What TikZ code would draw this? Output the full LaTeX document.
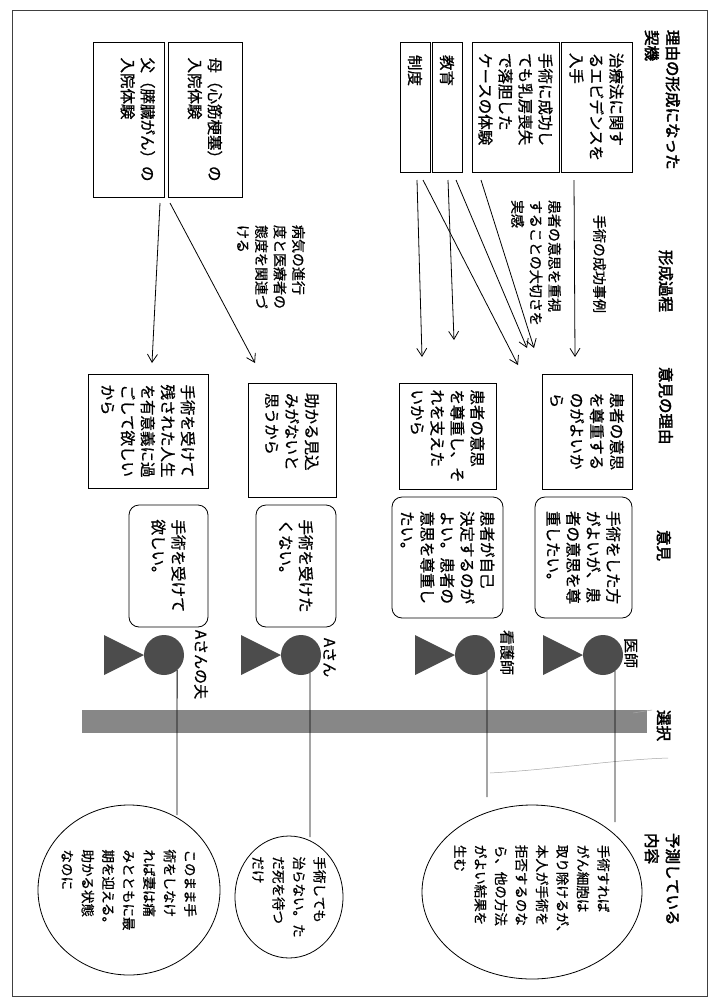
\documentclass[tikz,border=0pt]{standalone}
\usepackage{fontspec}
\newfontfamily\jp[FakeBold=0.8]{Noto Sans CJK JP}
\newfontfamily\jpb[FakeBold=2.5]{Noto Sans CJK JP}
\usetikzlibrary{arrows.meta,calc,shapes.geometric}
\begin{document}
\begin{tikzpicture}[x=1pt,y=-1pt,
  every node/.style={inner sep=0pt, outer sep=0pt},
  vt/.style={rotate=-90, align=left},
  txt/.style={vt, font=\jp\fontsize{15.5}{20}\selectfont},
  small/.style={vt, font=\jp\fontsize{13.5}{20.5}\selectfont},
  lbl/.style={vt, anchor=north west, font=\jp\fontsize{14}{18.5}\selectfont},
  hdr/.style={vt, anchor=north west, font=\jpb\fontsize{15.5}{21}\selectfont},
  who/.style={vt, anchor=north west, font=\jp\fontsize{15}{19}\selectfont},
  sqbox/.style={txt, draw, line width=0.8pt},
  rdbox/.style={txt, draw, line width=0.8pt, rounded corners=10pt},
  oval/.style={ellipse, draw, line width=0.8pt},
  body/.style={circle, fill=black!70, minimum size=40pt},
  legs/.style={fill=black!70},
  ln/.style={line width=0.8pt},
  arr/.style={line width=0.8pt, -{Straight Barb[length=8pt,width=10pt]}},
  bar/.style={fill=black!47},
  pencil/.style={black!35, line width=0.5pt},
]
\useasboundingbox (0,0) rectangle (714,1001);
\fill[white] (0,0) rectangle (714,1001);
\draw[line width=0.8pt, black!75] (12,10) rectangle (707,996);

% headers
\node[hdr] (h1) at (680,30) {理由の形成になった\\契機};
\node[hdr] (h2) at (673,250) {形成過程};
\node[hdr] (h3) at (673,367) {意見の理由};
\node[hdr] (h4) at (671,530) {意見};
\node[hdr] (h5) at (671,710) {選択};
\node[hdr] (h6) at (680,833) {予測している\\内容};

% origin boxes
\node[sqbox, minimum width=130pt, minimum height=71pt] (b1) at (596.5,107) {治療法に関す\\るエビデンスを\\入手};
\node[sqbox, minimum width=130pt, minimum height=87pt, text width=108pt] (b2) at (515.5,107) {手術に成功し\\ても乳房喪失\\で落胆した\\ケースの体験};
\node[sqbox, minimum width=130pt, minimum height=30pt, text width=104pt] (b3) at (447,107) {教育};
\node[sqbox, minimum width=130pt, minimum height=30pt, text width=104pt] (b4) at (415,107) {制度};
\node[sqbox, minimum width=155pt, minimum height=74pt] (b5) at (205,119.5) {母（心筋梗塞）の\\入院体験};
\node[sqbox, minimum width=155pt, minimum height=71pt] (b6) at (128.5,119.5) {父（膵臓がん）の\\入院体験\\\mbox{}};

% process labels
\node[lbl] (k1) at (606,215) {手術の成功事例};
\node[lbl] (k2) at (561,200) {患者の意思を重視\\することの大切さを\\実感};
\node[lbl] (k3) at (305,225) {病気の進行\\度と医療者の\\態度を関連づ\\ける};

% reason boxes
\node[sqbox, minimum width=115pt, minimum height=90pt] (r1) at (587,431.5) {患者の意思\\を尊重する\\のがよいか\\ら};
\node[sqbox, minimum width=106pt, minimum height=97pt] (r2) at (447.5,436) {患者の意思\\を尊重し、そ\\れを支えた\\いから};
\node[sqbox, minimum width=114pt, minimum height=88pt, text width=94pt] (r3) at (292,440) {助かる見込\\みがないと\\思うから};
\node[sqbox, minimum width=114pt, minimum height=120pt] (r4) at (148,431) {手術を受けて\\残された人生\\を有意義に過\\ごして欲しい\\から};

% arrows
\coordinate (s1) at ($(b4.center)+(2,73)$);   \coordinate (t1) at (422,357);
\coordinate (s2) at ($(b4.center)+(8,73)$);   \coordinate (t2) at (518,365);
\coordinate (s3) at ($(b3.center)+(1,73)$);   \coordinate (t3) at (454,340);
\coordinate (s4) at ($(b3.center)+(9,73)$);   \coordinate (t4) at (527,348);
\coordinate (s5) at ($(b2.center)+(-34.5,73)$); \coordinate (t5) at (534,348);
\coordinate (s6) at ($(b1.center)+(-22.5,73)$); \coordinate (t6) at (575,357);
\coordinate (s7) at ($(b5.center)+(-35,83.5)$); \coordinate (t7) at (255,363);
\coordinate (s8) at ($(b6.center)+(31.5,83.5)$); \coordinate (t8) at (152,363);
\foreach \i in {1,...,8} {\draw[arr] (s\i) -- (t\i);}

% opinion boxes
\node[rdbox, minimum width=121pt, minimum height=97pt] (o1) at (583.5,557.5) {手術をした方\\がよいが、患\\者の意思を尊\\重したい。};
\node[rdbox, minimum width=121pt, minimum height=111pt] (o2) at (447.5,557.5) {患者が自己\\決定するのが\\よい。患者の\\意思を尊重し\\たい。};
\node[rdbox, minimum width=122pt, minimum height=80pt] (o3) at (296,566) {手術を受けた\\くない。};
\node[rdbox, minimum width=122pt, minimum height=79pt] (o4) at (168.5,566) {手術を受けて\\欲しい。};

% choice bar
\fill[bar] (82,710) rectangle (647,733);
\draw[pencil] (633,713) -- (652,710);
\draw[pencil] (490,773) .. controls (560,769) and (610,760) .. (668,758);

% persons
\node[body] (p1) at (603,655) {};
\node[body] (p2) at (475,655) {};
\node[body] (p3) at (301,655) {};
\node[body] (p4) at (164,655) {};
\foreach \p in {p1,p2,p3,p4} {
  \fill[legs] ($(\p.west)+(-40,-20)$) -- (\p.west) -- ($(\p.west)+(-40,20)$) -- cycle;
}
\node[who] (l1) at (638,638) {医師};
\node[who] (l2) at (514,630) {看護師};
\node[who] (l3) at (336,638) {Aさん};
\node[who] (l4) at (208,630) {Aさんの夫};

% prediction ellipses
\node[oval, minimum width=220pt, minimum height=174pt] (e1) at (532,892) {};
\node[oval, minimum width=108pt, minimum height=122pt] (e2) at (289,897) {};
\node[oval, minimum width=182pt, minimum height=170pt] (e3) at (129,890) {};
\node[small] (x1) at (e1.center) {手術すれば\\がん細胞は\\取り除けるが、\\本人が手術を\\拒否するのな\\ら、他の方法\\がよい結果を\\生む};
\node[small] (x2) at (e2.center) {手術しても\\治らない。た\\だ死を待つ\\だけ};
\node[small] (x3) at (e3.center) {このまま手\\術をしなけ\\れば妻は痛\\みとともに最\\期を迎える。\\助かる状態\\なのに};

% timelines
\coordinate (q1) at (615,822);
\coordinate (q2) at (487,797);
\coordinate (q3) at (310,837);
\coordinate (q4) at (177,815);
\draw[ln] (p1.-53) -- (q1);
\draw[ln] (p2.-53) -- (q2);
\draw[ln] (p3.-63) -- (q3);
\draw[ln] (p4.-49) -- (q4);
\end{tikzpicture}
\end{document}
